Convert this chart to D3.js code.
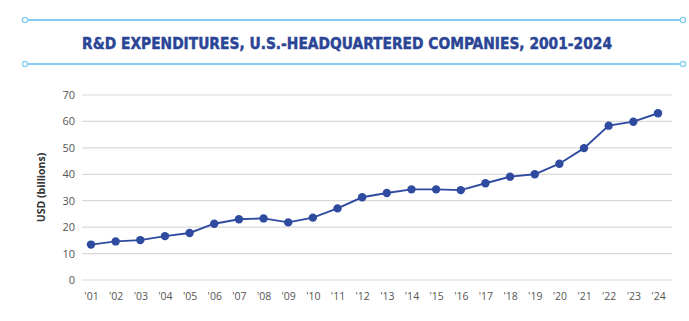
<!DOCTYPE html>
<html>
<head>
<meta charset="utf-8">
<script src="https://cdn.jsdelivr.net/npm/d3@7"></script>
<style>
  body { margin: 0; background: #fff; }
  svg { display: block; }
</style>
</head>
<body>
<div id="chart"></div>
<script>
// chart data
const years = ["'01", "'02", "'03", "'04", "'05", "'06", "'07", "'08", "'09", "'10", "'11", "'12",
  "'13", "'14", "'15", "'16", "'17", "'18", "'19", "'20", "'21", "'22", "'23", "'24"];
const spend = [13.4, 14.6, 15.1, 16.6, 17.8, 21.3, 23.0, 23.3, 21.8, 23.6, 27.1, 31.3,
  32.9, 34.3, 34.3, 34.0, 36.6, 39.1, 40.0, 44.0, 49.9, 58.4, 59.9, 63.1];
const yTicks = [0, 10, 20, 30, 40, 50, 60, 70];
const title = "R&D EXPENDITURES, U.S.-HEADQUARTERED COMPANIES, 2001-2024";

const width = 689, height = 321;
const margin = {top: 95, right: 17, bottom: 41, left: 82};

const svg = d3.select("#chart").append("svg")
  .attr("width", width)
  .attr("height", height);

// title band with the two light blue rules
[20, 64].forEach(y => {
  svg.append("line")
    .attr("x1", 25).attr("x2", 683)
    .attr("y1", y).attr("y2", y)
    .attr("stroke", "#86cdef")
    .attr("stroke-width", 2);
  [25, 683].forEach(x => {
    svg.append("circle")
      .attr("cx", x).attr("cy", y).attr("r", 2.6)
      .attr("fill", "#fff")
      .attr("stroke", "#86cdef")
      .attr("stroke-width", 1.3);
  });
});

svg.append("text")
  .attr("x", 347)
  .attr("y", 49)
  .attr("text-anchor", "middle")
  .attr("textLength", 530)
  .attr("lengthAdjust", "spacingAndGlyphs")
  .style("font-family", "'DejaVu Sans Condensed', 'DejaVu Sans', sans-serif")
  .style("font-weight", "bold")
  .style("font-size", "15px")
  .style("fill", "#2b4596")
  .style("stroke", "#2b4596")
  .style("stroke-width", 0.4)
  .text(title);

// scales
const x = d3.scalePoint()
  .domain(years)
  .range([91, 658]);

const y = d3.scaleLinear()
  .domain([0, 70])
  .range([height - margin.bottom, margin.top]);

// gridlines
svg.append("g")
  .selectAll("line")
  .data(yTicks)
  .join("line")
  .attr("x1", margin.left)
  .attr("x2", width - margin.right)
  .attr("y1", d => y(d))
  .attr("y2", d => y(d))
  .attr("stroke", "#d9d9d9")
  .attr("stroke-width", 1.2);

// y axis
const yAxis = svg.append("g")
  .attr("transform", `translate(${margin.left},0)`)
  .call(d3.axisLeft(y).tickValues(yTicks).tickSize(0).tickPadding(7));
yAxis.select(".domain").remove();
yAxis.selectAll("text")
  .style("font-family", "'Open Sans', sans-serif")
  .style("font-size", "11px")
  .style("fill", "#555");

// x axis
const xAxis = svg.append("g")
  .attr("transform", `translate(0,${height - margin.bottom})`)
  .call(d3.axisBottom(x).tickSize(0).tickPadding(13));
xAxis.select(".domain").remove();
xAxis.selectAll("text")
  .style("font-family", "'Open Sans', sans-serif")
  .style("font-size", "10.5px")
  .style("fill", "#555");

// y label
svg.append("text")
  .attr("transform", `translate(45,${y(35)}) rotate(-90)`)
  .attr("text-anchor", "middle")
  .style("font-family", "'Open Sans', sans-serif")
  .style("font-weight", "bold")
  .style("font-size", "10.5px")
  .style("fill", "#333")
  .text("USD (billions)");

// line + points
const line = d3.line()
  .x((d, i) => x(years[i]))
  .y(d => y(d));

svg.append("path")
  .datum(spend)
  .attr("d", line)
  .attr("fill", "none")
  .attr("stroke", "#2f4ba0")
  .attr("stroke-width", 1.9);

svg.append("g")
  .selectAll("circle")
  .data(spend)
  .join("circle")
  .attr("cx", (d, i) => x(years[i]))
  .attr("cy", d => y(d))
  .attr("r", 4.2)
  .attr("fill", "#2f4ba0");
</script>
</body>
</html>
